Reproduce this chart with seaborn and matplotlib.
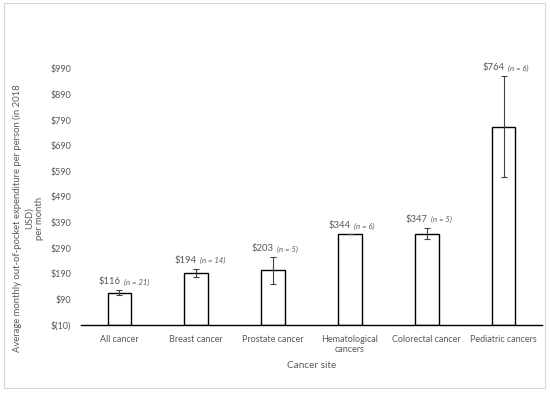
import matplotlib
matplotlib.use("Agg")
import matplotlib.pyplot as plt
import seaborn as sns
import pandas as pd
from matplotlib.patches import Rectangle

categories = ["All cancer", "Breast cancer", "Prostate cancer", "Hematological\ncancers",
              "Colorectal cancer", "Pediatric cancers"]
values = [116, 194, 203, 344, 347, 764]
errors = [10, 15, 52, 0, 23, 197]
n_labels = ["(n = 21)", "(n = 14)", "(n = 5)", "(n = 6)", "(n = 5)", "(n = 6)"]
yticks = [-10, 90, 190, 290, 390, 490, 590, 690, 790, 890, 990]
baseline = -10

sns.set_theme(style="white")
plt.rcParams["font.family"] = ["Lato", "DejaVu Sans"]
gray = "#595959"

fig = plt.figure(figsize=(5.5, 3.93), dpi=100)
ax = fig.add_axes([81/550, 1-325/393, (542-81)/550, (325-30)/393])

df = pd.DataFrame({"cat": categories, "val": values})
sns.barplot(data=df, x="cat", y="val", color="white", edgecolor="black",
            linewidth=1.0, width=0.31, ax=ax, errorbar=None, saturation=1)
# bars start from the axis crossing (baseline), like the original
for p, v in zip(ax.patches, values):
    p.set_facecolor("white")
    p.set_y(baseline)
    p.set_height(v - baseline)

xs = list(range(len(values)))
ax.errorbar(xs, values, yerr=errors, fmt="none", ecolor="#404040",
            elinewidth=0.8, capsize=2.5, capthick=0.8)

for x, v, e, n in zip(xs, values, errors, n_labels):
    top = v + e
    ax.annotate(f"${v}", (x, top), xytext=(0.5, 3), textcoords="offset points",
                ha="right", va="bottom", fontsize=6.8, color=gray)
    ax.annotate(n, (x, top), xytext=(3, 3.3), textcoords="offset points",
                ha="left", va="bottom", fontsize=5.6, style="italic", color=gray)

ax.set_xlim(-0.5, 5.5)
ax.set_ylim(baseline, 1142)
ax.set_yticks(yticks)
ax.set_yticklabels([f"$({-t})" if t < 0 else f"${t}" for t in yticks])
ax.tick_params(axis="both", length=0, labelsize=6.5, labelcolor=gray, pad=7)
for s in ["top", "right", "left"]:
    ax.spines[s].set_visible(False)
ax.spines["bottom"].set_color("black")
ax.spines["bottom"].set_linewidth(1.0)
ax.set_xlabel("Cancer site", fontsize=7.2, color=gray, labelpad=5)
ax.set_ylabel("")

fig.text(0.052, 1-218/393,
         "Average monthly out-of-pocket expenditure per person (in 2018\nUSD)\nper month",
         rotation=90, ha="center", va="center", multialignment="center",
         fontsize=6.8, color=gray, linespacing=1.3)

fig.patches.append(Rectangle((4/550, 1-388/393), 541/550, 385/393,
                             transform=fig.transFigure, fill=False,
                             edgecolor="#d9d9d9", linewidth=0.8))

fig.savefig("out.png", dpi=100)
